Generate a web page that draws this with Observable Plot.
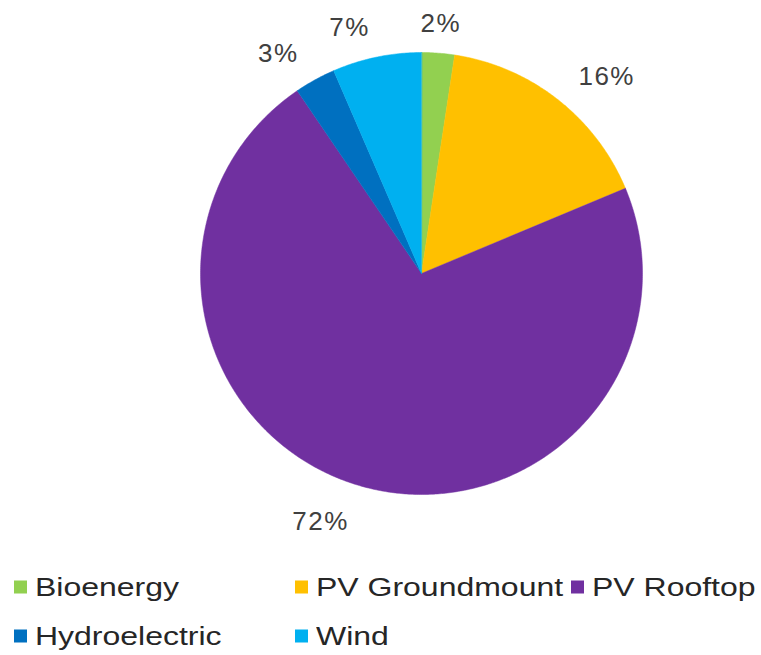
<!DOCTYPE html>
<html>
<head>
<meta charset="utf-8">
<script src="https://cdn.jsdelivr.net/npm/d3@7"></script>
<script src="https://cdn.jsdelivr.net/npm/@observablehq/plot@0.6"></script>
<style>
  html, body { margin: 0; padding: 0; background: #fff; }
  #chart { position: relative; width: 761px; height: 655px; font-family: "Liberation Sans", Arial, sans-serif; }
  #legend { position: absolute; left: 0; top: 560px; width: 761px; height: 95px; }
  .item { position: absolute; display: flex; align-items: center; font-size: 26px; color: #262626; white-space: nowrap; transform: translateY(-50%); }
  .sw { width: 13px; height: 13px; margin-right: 8px; flex: none; }
  .tx { display: inline-block; transform: scaleX(1.23); transform-origin: left center; }
  svg text { letter-spacing: 1.5px; }
</style>
</head>
<body>
<div id="chart"></div>
<script>
const categories = ["Bioenergy", "PV Groundmount", "PV Rooftop", "Hydroelectric", "Wind"];
const values = [2.4, 16.3, 71.8, 3.0, 6.5];
const labels = ["2%", "16%", "72%", "3%", "7%"];
const colors = ["#92D050", "#FFC000", "#7030A0", "#0070C0", "#00B0F0"];
const legendOrder = ["Bioenergy", "PV Groundmount", "PV Rooftop", "Hydroelectric", "Wind"];

// layout
const W = 761, H = 560, CX = 421, CY = 273, R = 221;
const labelR = 255 / R;

const arcs = d3.pie().sort(null).value(d => d)(values);

// polygon points for each slice (unit circle)
const poly = [];
arcs.forEach((a, i) => {
  const cat = categories[i];
  poly.push({cat, x: 0, y: 0});
  const n = Math.max(2, Math.ceil((a.endAngle - a.startAngle) / (Math.PI / 360)));
  for (let k = 0; k <= n; k++) {
    const t = a.startAngle + (a.endAngle - a.startAngle) * k / n;
    poly.push({cat, x: Math.sin(t), y: Math.cos(t)});
  }
});

const lab = arcs.map((a, i) => {
  const m = (a.startAngle + a.endAngle) / 2;
  return {label: labels[i], x: labelR * Math.sin(m), y: labelR * Math.cos(m), s: Math.sin(m)};
});

const textOpts = {x: "x", y: "y", text: "label", dy: 4, fontSize: 26, fill: "#404040", fontFamily: "Liberation Sans, Arial, sans-serif"};

const plot = Plot.plot({
  width: W, height: H,
  marginLeft: 0, marginRight: 0, marginTop: 0, marginBottom: 0,
  x: {domain: [-CX / R, (W - CX) / R], axis: null},
  y: {domain: [(CY - H) / R, CY / R], axis: null},
  color: {domain: categories, range: colors},
  marks: [
    Plot.line(poly, {x: "x", y: "y", z: "cat", fill: "cat", stroke: "cat", strokeWidth: 0.5, curve: "linear-closed"}),
    Plot.text(lab.filter(d => d.s > 0.1), {...textOpts, textAnchor: "start"}),
    Plot.text(lab.filter(d => d.s < -0.1), {...textOpts, textAnchor: "end"}),
    Plot.text(lab.filter(d => Math.abs(d.s) <= 0.1), {...textOpts, textAnchor: "middle"})
  ]
});
plot.style.position = "absolute";
plot.style.left = "0px";
plot.style.top = "0px";

const chart = document.getElementById("chart");
chart.appendChild(plot);

const legend = document.createElement("div");
legend.id = "legend";
const pos = [[14, 27], [295, 27], [571, 27], [14, 76], [295, 76]];
legendOrder.forEach((c, i) => {
  const it = document.createElement("div");
  it.className = "item";
  it.style.left = pos[i][0] + "px";
  it.style.top = pos[i][1] + "px";
  const sw = document.createElement("span");
  sw.className = "sw";
  sw.style.background = colors[categories.indexOf(c)];
  const tx = document.createElement("span");
  tx.className = "tx";
  tx.textContent = c;
  it.appendChild(sw);
  it.appendChild(tx);
  legend.appendChild(it);
});
chart.appendChild(legend);
</script>
</body>
</html>
